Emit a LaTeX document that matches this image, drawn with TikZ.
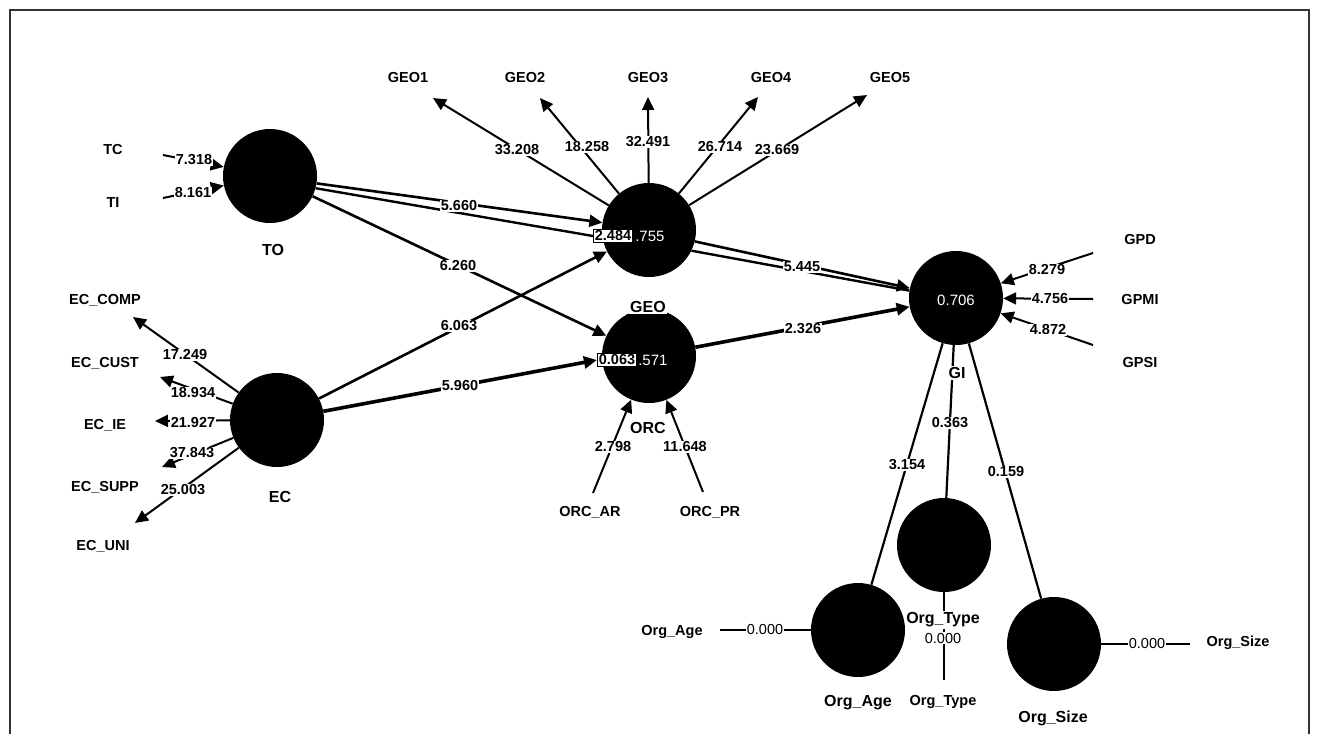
\documentclass[tikz,border=0pt]{standalone}
\usepackage{fontspec}
\setmainfont{Liberation Sans}
\usetikzlibrary{arrows.meta}
\begin{document}
\begin{tikzpicture}[x=1pt,y=-1pt,
  lv/.style={circle, fill=black, draw=none, minimum size=94pt, inner sep=0pt},
  ind/.style={font=\fontsize{14.5}{14.5}\selectfont\bfseries, inner sep=1pt},
  lvl/.style={font=\fontsize{16}{16}\selectfont\bfseries, fill=white, inner sep=1.5pt},
  num/.style={font=\fontsize{14.5}{14.5}\selectfont\bfseries, fill=white, inner sep=1pt},
  zeronum/.style={font=\fontsize{14.5}{14.5}\selectfont, fill=white, inner sep=1pt},
  inval/.style={font=\fontsize{15}{15}\selectfont, text=white, inner sep=0pt},
  boxnum/.style={font=\fontsize{14.5}{14.5}\selectfont\bfseries, fill=white, draw=black, line width=0.9pt, inner sep=1.5pt},
  arr/.style={-{Triangle[length=13pt,width=12pt]}},
  sload/.style={line width=2pt, arr},
  spath/.style={line width=2.6pt, arr},
  sthick/.style={line width=3.6pt, arr},
  sbare/.style={line width=2.2pt},
]
\useasboundingbox (0,0) rectangle (1318,734);
\draw[line width=2pt, black!80] (10,734) -- (10,10) -- (1309,10) -- (1309,734);

% latent variables
\node[lv] (TO) at (270,176) {};
\node[lv] (GEO) at (649,230) {};
\node[lv] (ORC) at (649,356) {};
\node[lv] (EC) at (277,420) {};
\node[lv] (GI) at (956,298) {};
\node[lv] (OT) at (944,545) {};
\node[lv] (OA) at (858,630) {};
\node[lv] (OS) at (1054,644) {};

% indicator labels
\node[ind] (TC) at (113,150) {TC};
\node[ind] (TI) at (113,203) {TI};
\node[ind] (GEO1) at (408,78) {GEO1};
\node[ind] (GEO2) at (525,78) {GEO2};
\node[ind] (GEO3) at (648,78) {GEO3};
\node[ind] (GEO4) at (771,78) {GEO4};
\node[ind] (GEO5) at (890,78) {GEO5};
\node[ind] (ECCOMP) at (105,300) {EC\_COMP};
\node[ind] (ECCUST) at (105,363) {EC\_CUST};
\node[ind] (ECIE) at (105,425) {EC\_IE};
\node[ind] (ECSUPP) at (105,487) {EC\_SUPP};
\node[ind] (ECUNI) at (103,546) {EC\_UNI};
\node[ind] (ORCAR) at (590,512) {ORC\_AR};
\node[ind] (ORCPR) at (710,512) {ORC\_PR};
\node[ind] (GPD) at (1140,240) {GPD};
\node[ind] (GPMI) at (1140,300) {GPMI};
\node[ind] (GPSI) at (1140,363) {GPSI};
\node[ind] (OAi) at (672,632) {Org\_Age};
\node[ind] (OSi) at (1238,643) {Org\_Size};
\node[ind] (OTi) at (943,702) {Org\_Type};

% connector end coordinates
\coordinate (TCe) at (163,155);
\coordinate (TIe) at (163,198);
\coordinate (G1t) at (433,98);
\coordinate (G2t) at (540,98);
\coordinate (G3t) at (648,97);
\coordinate (G4t) at (758,97);
\coordinate (G5t) at (867,95);
\coordinate (E1t) at (133,317);
\coordinate (E2t) at (160,377);
\coordinate (E3t) at (155,421);
\coordinate (E4t) at (162,467);
\coordinate (E5t) at (135,523);
\coordinate (ARe) at (593,493);
\coordinate (PRe) at (703,492);
\coordinate (GPDe) at (1093,253);
\coordinate (GPMIe) at (1093,299);
\coordinate (GPSIe) at (1093,345);
\coordinate (OAe) at (720,630);
\coordinate (OSe) at (1190,644);
\coordinate (OTe) at (944,680);

% boxed values (positions needed for connectors)
\node[boxnum] (b2484) at (613,236) {2.484};
\node[boxnum] (b0063) at (617,360) {0.063};

% indicator connectors
\draw[sload] (TCe) -- (TO);
\draw[sload] (TIe) -- (TO);
\draw[sload] (GEO) -- (G1t);
\draw[sload] (GEO) -- (G2t);
\draw[sload] (GEO) -- (G3t);
\draw[sload] (GEO) -- (G4t);
\draw[sload] (GEO) -- (G5t);
\draw[sload] (EC) -- (E1t);
\draw[sload] (EC) -- (E2t);
\draw[sload] (EC) -- (E3t);
\draw[sload] (EC) -- (E4t);
\draw[sload] (EC) -- (E5t);
\draw[sload] (ARe) -- (ORC);
\draw[sload] (PRe) -- (ORC);
\draw[sload] (GPDe) -- (GI);
\draw[sload] (GPMIe) -- (GI);
\draw[sload] (GPSIe) -- (GI);
\draw[sbare] (OAe) -- (OA);
\draw[sbare] (OS) -- (OSe);
\draw[sbare] (OT) -- (OTe);

% structural paths
\draw[spath] (TO.-9) -- (GEO.171);
\draw[line width=2.4pt] (TO.-15) -- (b2484.west);
\draw[spath] (TO) -- (ORC);
\draw[spath] (EC) -- (GEO);
\draw[sthick] (EC) -- (b0063.west);
\draw[spath] (GEO.-14) -- (GI.168);
\draw[line width=2.4pt] (GEO.-26) -- (GI.171);
\draw[sthick] (ORC) -- (GI);
\draw[sbare] (GI) -- (OA);
\draw[sbare] (GI) -- (OT);
\draw[sbare] (GI) -- (OS);

% redraw boxes on top
\node[boxnum] at (b2484) {2.484};
\node[boxnum] at (b0063) {0.063};

% in-circle values
\node[inval, anchor=west] (v755) at ([xshift=2pt]b2484.east) {.755};
\node[inval, anchor=west] (v571) at ([xshift=1pt]b0063.east) {.571};
\node[inval] (v706) at (956,300) {0.706};

% connector values
\node[num] at (194,160) {7.318};
\node[num] at (193,193) {8.161};
\node[num] at (517,150) {33.208};
\node[num] at (587,147) {18.258};
\node[num] at (648,142) {32.491};
\node[num] at (720,147) {26.714};
\node[num] at (777,150) {23.669};
\node[num] at (185,355) {17.249};
\node[num] at (193,393) {18.934};
\node[num] at (193,423) {21.927};
\node[num] at (192,453) {37.843};
\node[num] at (183,490) {25.003};
\node[num] at (459,206) {5.660};
\node[num] at (458,266) {6.260};
\node[num] at (459,326) {6.063};
\node[num] at (460,386) {5.960};
\node[num] at (802,267) {5.445};
\node[num] at (803,329) {2.326};
\node[num] at (1047,270) {8.279};
\node[num] at (1050,299) {4.756};
\node[num] at (1048,330) {4.872};
\node[num] at (613,447) {2.798};
\node[num] at (685,447) {11.648};
\node[num] at (907,465) {3.154};
\node[num] at (950,423) {0.363};
\node[num] at (1006,472) {0.159};
\node[zeronum] at (765,630) {0.000};
\node[zeronum] at (1147,644) {0.000};
\node[zeronum] at (943,638) {0.000};

% latent variable labels
\node[lvl] (TOl) at (273,250) {TO};
\node[lvl] (GEOl) at (648,307) {GEO};
\node[lvl] (ORCl) at (648,428) {ORC};
\node[lvl] (ECl) at (280,497) {EC};
\node[lvl] (GIl) at (957,373) {GI};
\node[lvl] (OAl) at (858,703) {Org\_Age};
\node[lvl] (OTl) at (943,620) {Org\_Type};
\node[lvl] (OSl) at (1053,718) {Org\_Size};
\end{tikzpicture}
\end{document}
